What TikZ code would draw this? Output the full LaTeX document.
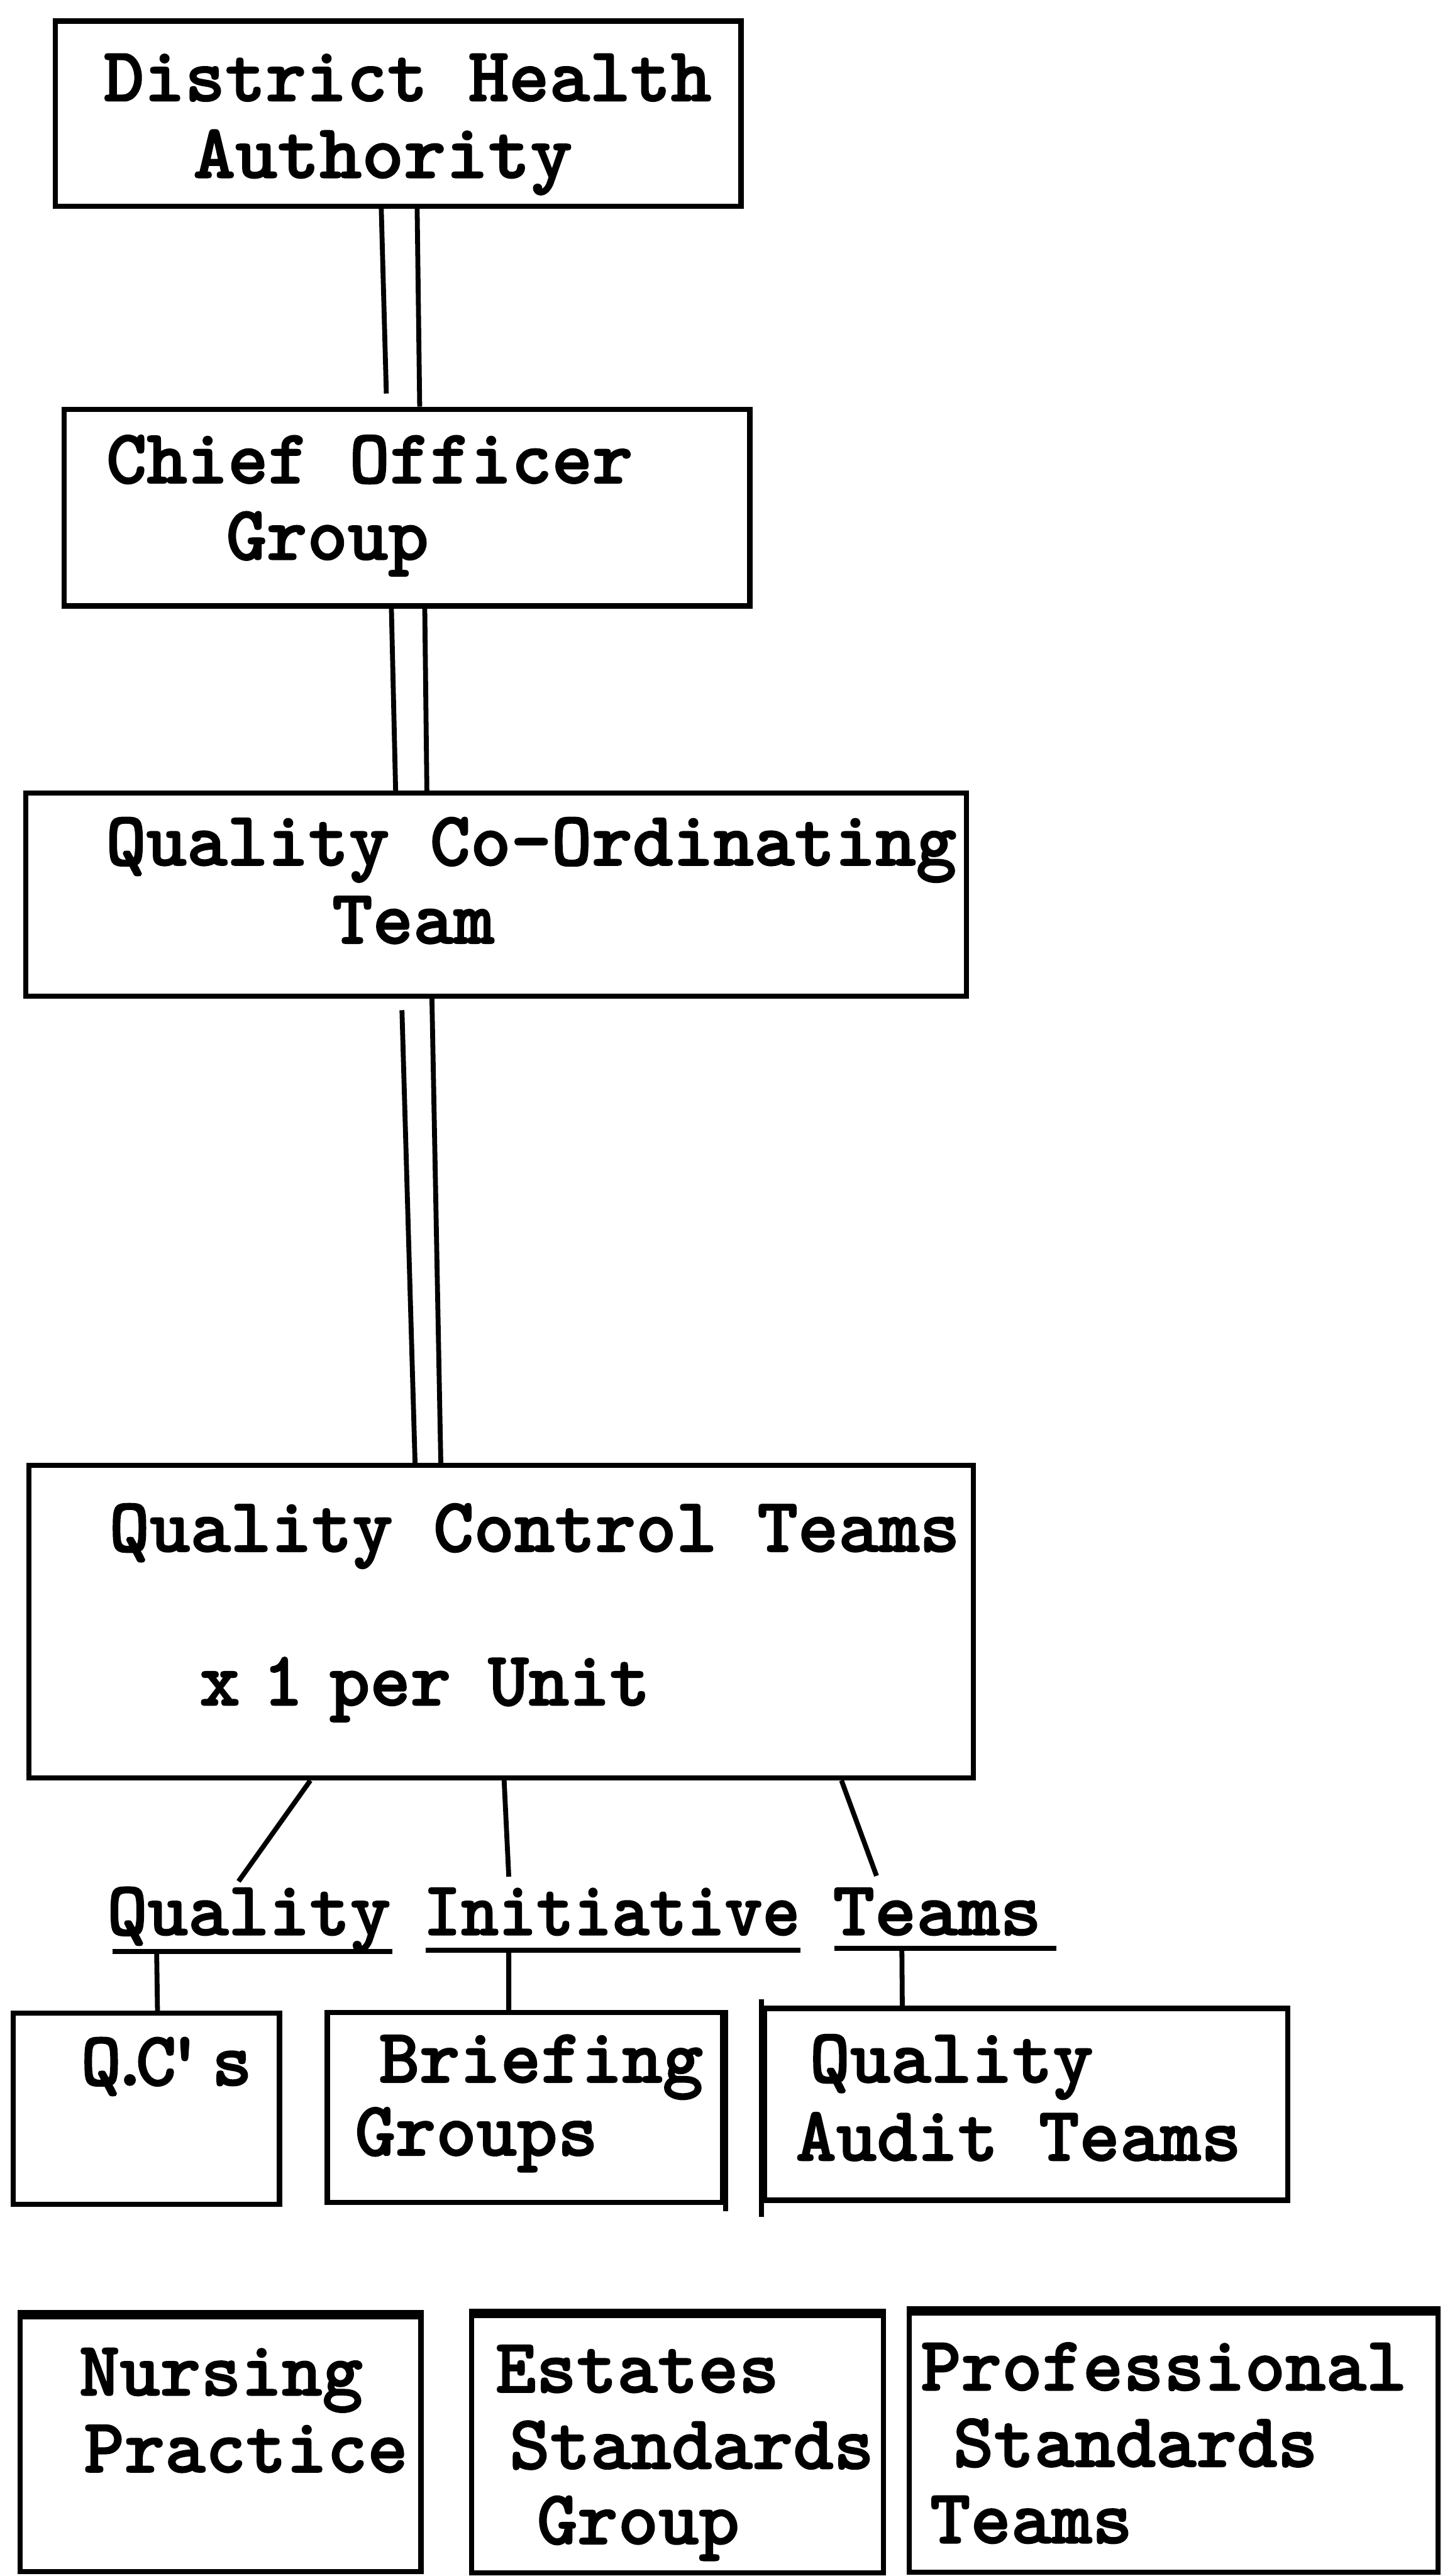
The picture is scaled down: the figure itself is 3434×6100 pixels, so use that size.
\documentclass[tikz,border=0pt]{standalone}
\usepackage{fontspec}
\usepackage{graphicx}
\newfontfamily\typer{lmmonolt10-bold.otf}[FakeBold=1.6]
\begin{document}
\begin{tikzpicture}[x=0.1mm,y=-0.1mm,
  box/.style={draw, rectangle, line width=3.5pt, line join=miter, inner sep=0pt},
  lbl/.style={anchor=base west, inner sep=0pt, font=\typer\fontsize{52pt}{57pt}\selectfont},
  link/.style={line width=3.3pt},
  uline/.style={line width=3.4pt},
  heavytop/.style={line width=5.2pt}]
\useasboundingbox (0,0) rectangle (3434,6100);

% ---- boxes ----
\node[box, minimum width=162.4mm, minimum height=43.8mm] (dha)   at (943,269)     {};
\node[box, minimum width=162.4mm, minimum height=46.6mm] (co)    at (964,1202)    {};
\node[box, minimum width=222.8mm, minimum height=48.1mm] (qcot)  at (1175,2118.5) {};
\node[box, minimum width=223.6mm, minimum height=74.0mm] (qct)   at (1187,3840)   {};
\node[box, minimum width=63.1mm,  minimum height=45.3mm] (qcs)   at (346.5,4993.5){};
\node[box, minimum width=93.7mm,  minimum height=44.9mm] (brief) at (1243.5,4990.5){};
\node[box, minimum width=124.0mm, minimum height=45.4mm] (audit) at (2430,4983)   {};
\node[box, minimum width=94.9mm,  minimum height=60.4mm] (nurs)  at (522.5,5788)  {};
\node[box, minimum width=97.5mm,  minimum height=60.9mm] (est)   at (1604.5,5787.5){};
\node[box, minimum width=125.3mm, minimum height=61.4mm] (prof)  at (2779.5,5784) {};

% heavier top rules of the bottom row
\draw[heavytop] (nurs.north west) -- (nurs.north east);
\draw[heavytop] (est.north west) -- (est.north east);
\draw[heavytop] (prof.north west) -- (prof.north east);
% overshooting strokes
\draw[link] ([yshift=1.6mm]audit.north west) -- ([yshift=-3.4mm]audit.south west);
\draw[link] (brief.north east) -- ([yshift=-1.5mm]brief.south east);

% ---- texts ----
\node[lbl] (t1a) at (245,239)  {District Health};
\node[lbl] (t1b) at (457,421)  {\scalebox{1.04}[1]{Authority}};
\node[lbl] (t2a) at (251,1144) {Chief Officer};
\node[lbl] (t2b) at (535,1325) {Group};
\node[lbl] (t3a) at (250,2049) {Quality Co-Ordinating};
\node[lbl] (t3b) at (786,2234) {Team};
\node[lbl] (t4a) at (258,3674) {Quality Control Teams};
\node[lbl] (t4b) at (472,4038) {x\ \kern-4.2mm 1\ \kern-3.4mm per\ \kern-0.8mm Unit};

\node[lbl] (wq) at (253,4582)  {Quality};
\node[lbl] (wi) at (1002,4582) {\scalebox{0.93}[1]{Initiative}};
\node[lbl] (wt) at (1972,4582) {\scalebox{1.03}[1]{Teams}};

\node[lbl] (t5)  at (191,4938)  {Q\kern-2.8mm.\kern-3.4mm C\kern-2.8mm'\kern1.6mm s};
\node[lbl] (t6a) at (897,4931)  {Briefing};
\node[lbl] (t6b) at (840,5104)  {Groups};
\node[lbl] (t7a) at (1917,4931) {Quality};
\node[lbl] (t7b) at (1884,5116) {Audit Teams};
\node[lbl] (t8a) at (187,5672)  {Nursing};
\node[lbl] (t8b) at (198,5854)  {Practice};
\node[lbl] (t9a) at (1173,5665) {Estates};
\node[lbl] (t9b) at (1206,5846) {Standards};
\node[lbl] (t9c) at (1271,6024) {Group};
\node[lbl] (tAa) at (2180,5660) {Professional};
\node[lbl] (tAb) at (2257,5841) {Standards};
\node[lbl] (tAc) at (2202,6022) {Teams};

% ---- double links down the chain ----
\draw[link] ([xshift=-4.0mm]dha.south) -- ([xshift=-4.9mm,yshift=3.1mm]co.north);
\draw[link] ([xshift=4.5mm]dha.south)  -- ([xshift=3.0mm]co.north);
\draw[link] ([xshift=-3.7mm]co.south)  -- ([xshift=-23.8mm]qcot.north);
\draw[link] ([xshift=4.2mm]co.south)   -- ([xshift=-16.4mm]qcot.north);
\draw[link] ([xshift=-22.3mm,yshift=-2.7mm]qcot.south) -- ([xshift=-20.4mm]qct.north);
\draw[link] ([xshift=-15.2mm]qcot.south) -- ([xshift=-14.3mm]qct.north);

% ---- links to the initiative teams ----
\coordinate (eq) at (565,4455);
\coordinate (ei) at (1205,4444);
\coordinate (et) at (2076,4442);
\draw[link] ([xshift=-45.2mm]qct.south) -- (eq);
\draw[link] ([xshift=0.7mm]qct.south)   -- (ei);
\draw[link] ([xshift=80.6mm]qct.south)  -- (et);

% underlines of the heading words
\draw[uline] (266,4621) -- (930,4621);
\draw[uline] (1008,4618) -- (1896,4618);
\draw[uline] (1976,4614) -- (2502,4614);

\coordinate (uq) at (371,4621);
\coordinate (ui) at (1205,4618);
\coordinate (ut) at (2136,4614);
\draw[link] (uq) -- ([xshift=2.65mm]qcs.north);
\draw[link] (ui) -- ([xshift=-3.85mm]brief.north);
\draw[link] (ut) -- ([xshift=-29.3mm]audit.north);
\end{tikzpicture}
\end{document}
